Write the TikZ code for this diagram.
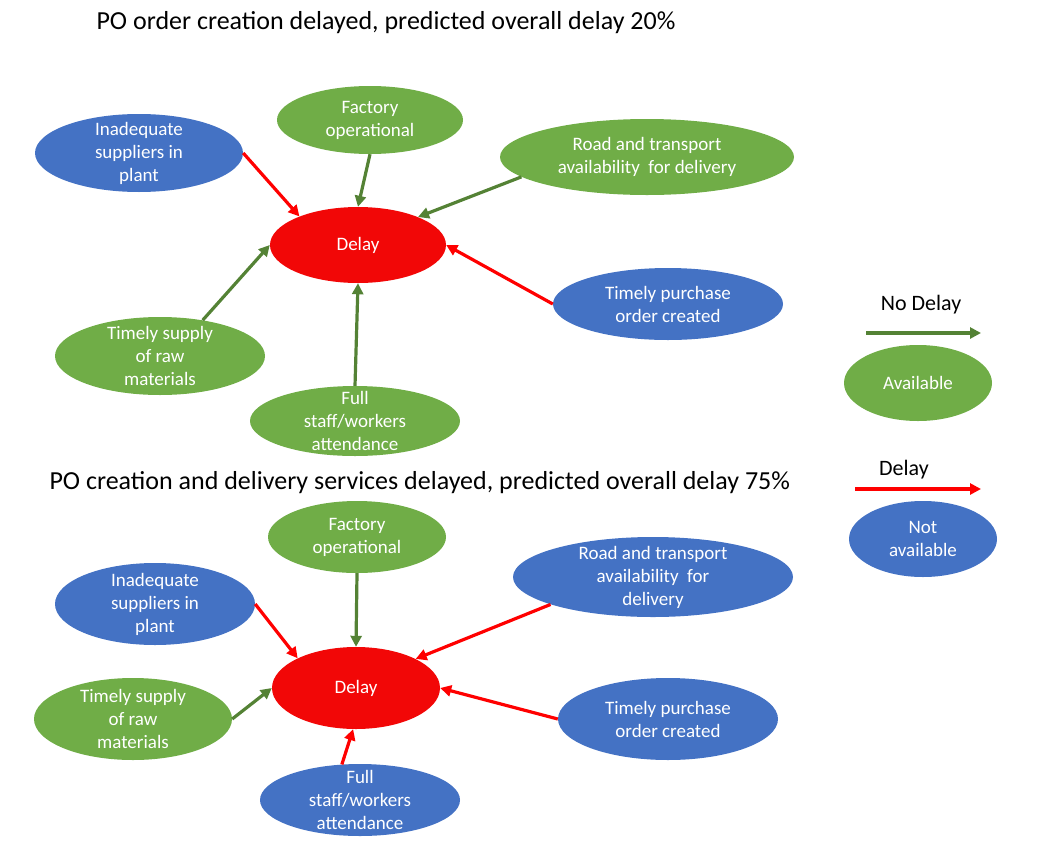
\documentclass[tikz,border=0pt]{standalone}
\usepackage{fontspec}
\setmainfont{Carlito}
\usetikzlibrary{shapes.geometric, arrows.meta}
\definecolor{okfill}{HTML}{70AD47}
\definecolor{nofill}{HTML}{4472C4}
\definecolor{delayfill}{HTML}{F20707}
\definecolor{okline}{HTML}{548235}
\definecolor{noline}{HTML}{FF0000}
\begin{document}
\begin{tikzpicture}[x=1pt, y=-1pt, >={Triangle[length=11pt,width=11pt]},
  oval/.style={ellipse, inner xsep=0pt, inner ysep=-12pt, align=center, text=white, font=\fontsize{19}{23}\selectfont},
  avail/.style={oval, fill=okfill},
  navail/.style={oval, fill=nofill},
  late/.style={oval, fill=delayfill},
  okarr/.style={->, line width=3.2pt, draw=okline, fill=okline},
  noarr/.style={->, line width=3.2pt, draw=noline, fill=noline},
  head/.style={anchor=west, font=\fontsize{26}{31}\selectfont},
  key/.style={font=\fontsize{22}{26}\selectfont}]
\useasboundingbox (0,0) rectangle (1044,841);
% Upper case
\node[head] (h1) at (93,23) {PO order creation delayed, predicted overall delay 20\%};
\node[late, minimum width=176, minimum height=76] (d1) at (358,245) {Delay};
\node[navail, minimum width=208, minimum height=78] (i1) at (139,153) {Inadequate\\suppliers in\\plant};
\node[avail, minimum width=186, minimum height=68] (f1) at (370,120) {Factory\\operational};
\node[avail, minimum width=294, minimum height=76] (r1) at (647,157) {Road and transport\\availability\ \ for delivery};
\node[navail, minimum width=230, minimum height=72] (p1) at (668,304) {Timely purchase\\order created};
\node[avail, minimum width=210, minimum height=78] (t1) at (160,356) {Timely supply\\of raw\\materials};
\node[avail, minimum width=210, minimum height=70] (s1) at (355,421) {Full\\staff/workers\\attendance};
% Arrows
\draw[noarr] (i1.east) -- (d1.154);
\draw[okarr] (f1.south) -- (d1.north);
\draw[okarr] (r1.189) -- (d1.25);
\draw[noarr] (p1.west) -- (d1.east);
\draw[okarr] (t1.40) -- (d1.west);
\draw[okarr] (s1.north) -- (d1.south);
% Lower case
\node[head] (h2) at (46,483) {PO creation and delivery services delayed, predicted overall delay 75\%};
\node[late, minimum width=168, minimum height=82] (d2) at (356,688) {Delay};
\node[navail, minimum width=200, minimum height=82] (i2) at (155,604) {Inadequate\\suppliers in\\plant};
\node[avail, minimum width=178, minimum height=72] (f2) at (357,537) {Factory\\operational};
\node[navail, minimum width=280, minimum height=80] (r2) at (653,577) {Road and transport\\availability\ \ for\\delivery};
\node[navail, minimum width=220, minimum height=82] (p2) at (668,719) {Timely purchase\\order created};
\node[avail, minimum width=198, minimum height=82] (t2) at (133,719) {Timely supply\\of raw\\materials};
\node[navail, minimum width=200, minimum height=72] (s2) at (360,800) {Full\\staff/workers\\attendance};
% Arrows
\draw[noarr] (i2.east) -- (d2.153);
\draw[okarr] (f2.south) -- (d2.north);
\draw[noarr] (r2.195) -- (d2.26);
\draw[noarr] (p2.west) -- (d2.east);
\draw[okarr] (t2.east) -- (d2.west);
\draw[noarr] (s2.117) -- (d2.266);
% Key
\node[key] (k1) at (921,305) {No Delay};
\coordinate (k1a) at (866,333);
\coordinate (k1b) at (981,333);
\draw[okarr] (k1a) -- (k1b);
\node[avail, minimum width=148, minimum height=76] (a1) at (918,383) {Available};
\node[key] (k2) at (904,470) {Delay};
\coordinate (k2a) at (855,489);
\coordinate (k2b) at (981,489);
\draw[noarr] (k2a) -- (k2b);
\node[navail, minimum width=148, minimum height=76] (n1) at (923,539) {Not\\available};
\end{tikzpicture}
\end{document}
